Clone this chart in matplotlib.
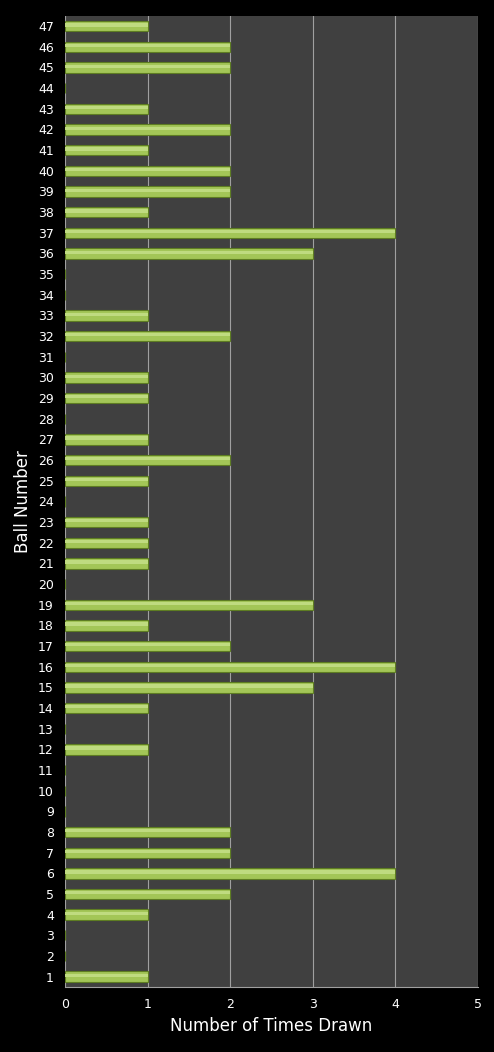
import numpy as np
import matplotlib.pyplot as plt

### ball numbers and how many times each was drawn
balls = np.arange(1, 48)
drawn = [1, 0, 0, 1, 2, 4, 2, 2, 0, 0,
         0, 1, 0, 1, 3, 4, 2, 1, 3, 0,
         1, 1, 1, 0, 1, 2, 1, 0, 1, 1,
         0, 2, 1, 0, 0, 3, 4, 1, 2, 2,
         1, 2, 1, 0, 2, 2, 1]
xticks = [0, 1, 2, 3, 4, 5]

fig = plt.figure(figsize=(4.94, 10.52), dpi=100, facecolor='black')
ax = fig.add_axes([0.1316, 0.0618, 0.836, 0.9232])
ax.set_facecolor('#404040')

### main bar plus a lighter highlight strip for the glossy look
ax.barh(balls, drawn, height=0.5, color='#a3c657', edgecolor='#5e7d22',
        linewidth=0.8, zorder=3)
ax.barh(balls + 0.06, drawn, height=0.16, color='#bfdb80', linewidth=0,
        zorder=4)

ax.set_xlim(0, 5)
ax.set_ylim(0.5, 47.5)
ax.set_xticks(xticks)
ax.set_yticks(balls)
ax.grid(axis='x', color='#a0a0a0', linewidth=0.8, zorder=1)
ax.tick_params(colors='white', labelsize=9, length=0, pad=8)
for s in ax.spines.values():
    s.set_visible(False)
ax.spines['bottom'].set_visible(True)
ax.spines['bottom'].set_color('#a0a0a0')

ax.set_xlabel('Number of Times Drawn', color='white', fontsize=12)
ax.set_ylabel('Ball Number', color='white', fontsize=12, labelpad=4)

fig.savefig('out.png', facecolor='black')
